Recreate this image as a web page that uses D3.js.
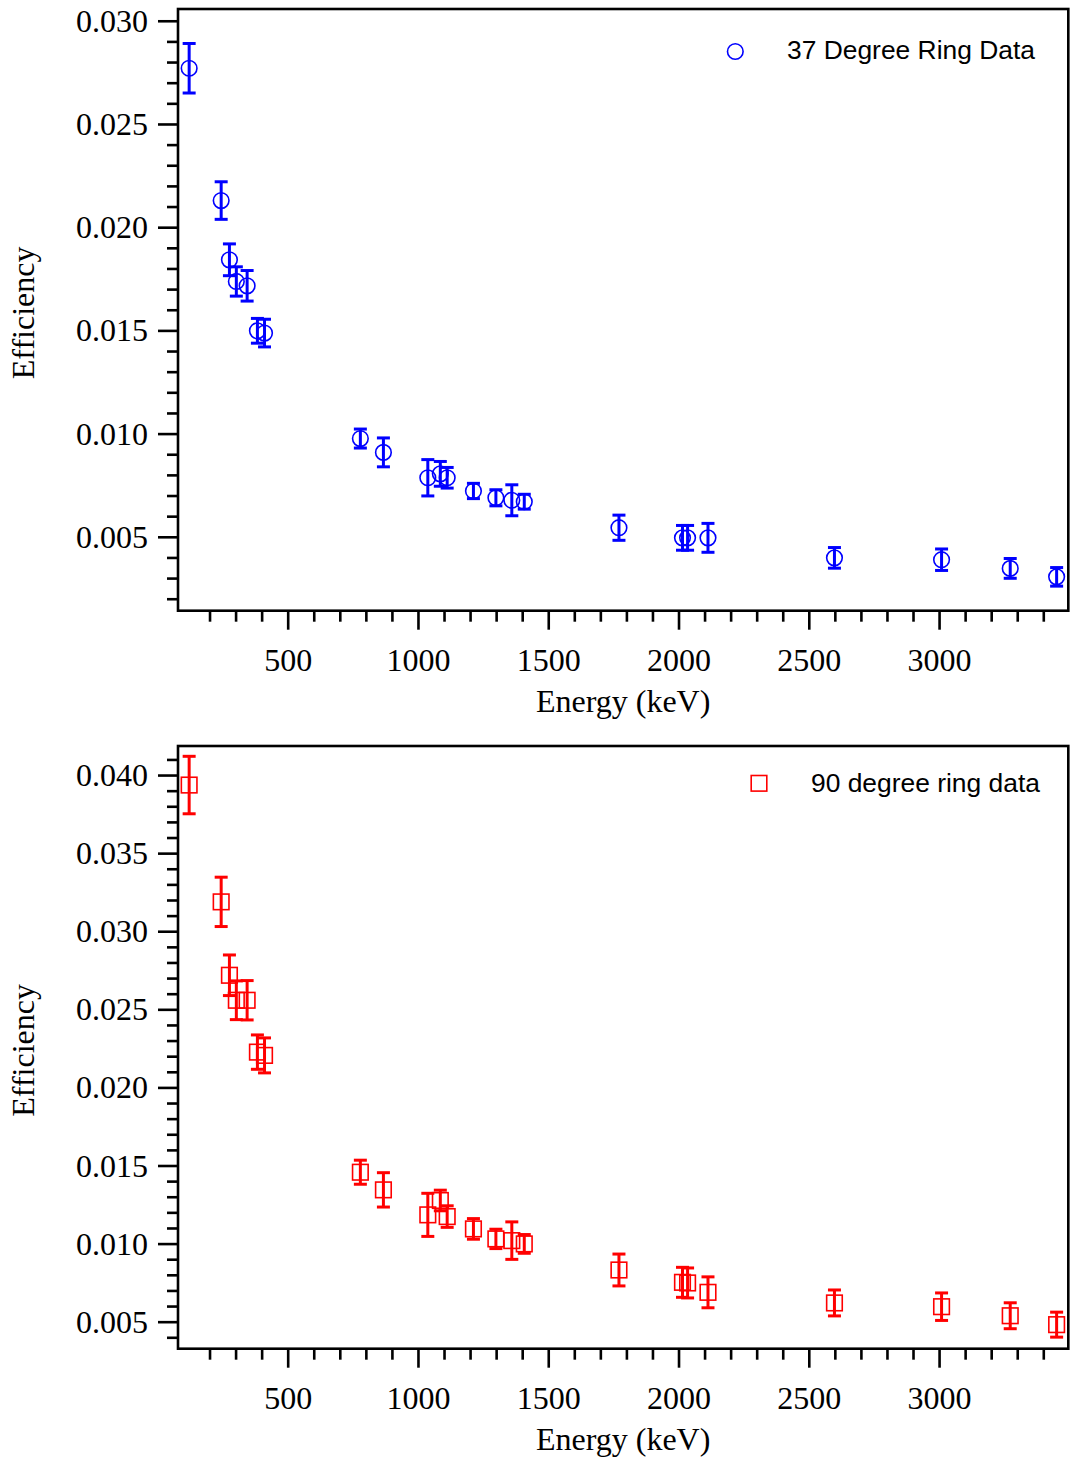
<!DOCTYPE html>
<html>
<head>
<meta charset="utf-8">
<script src="https://cdn.jsdelivr.net/npm/d3@7"></script>
<style>
  html, body { margin: 0; padding: 0; background: #fff; }
  svg { display: block; }
</style>
</head>
<body>
<svg id="chart" width="1073" height="1462"></svg>
<script>
// Gamma-ray energies (keV) of the calibration peaks
const energies = [121.8, 244.7, 276.4, 302.9, 344.3, 383.8, 411.1, 778.9, 867.4, 1037.8,
  1085.8, 1112.1, 1212.9, 1299.1, 1360.2, 1408.0, 1771.4, 2015.2, 2034.8, 2113.1,
  2598.5, 3009.6, 3273.1, 3451.2];

// 37 degree ring: efficiency and its uncertainty
const eff37 = [0.02770, 0.02129, 0.01842, 0.01737, 0.01716, 0.01498, 0.01487, 0.00976, 0.00909, 0.00786,
  0.00805, 0.00786, 0.00722, 0.00689, 0.00677, 0.00670, 0.00544, 0.00495, 0.00495, 0.00495,
  0.00398, 0.00389, 0.00347, 0.00306];
const err37 = [0.00120, 0.00091, 0.00077, 0.00071, 0.00074, 0.00060, 0.00067, 0.00046, 0.00070, 0.00088,
  0.00060, 0.00050, 0.00037, 0.00039, 0.00075, 0.00036, 0.00061, 0.00060, 0.00060, 0.00070,
  0.00050, 0.00052, 0.00048, 0.00045];

// 90 degree ring: efficiency and its uncertainty
const eff90 = [0.03936, 0.03188, 0.02718, 0.02558, 0.02558, 0.02226, 0.02205, 0.01457, 0.01344, 0.01184,
  0.01276, 0.01173, 0.01094, 0.01030, 0.01019, 0.00998, 0.00831, 0.00752, 0.00748, 0.00688,
  0.00620, 0.00596, 0.00538, 0.00481];
const err90 = [0.00184, 0.00158, 0.00130, 0.00124, 0.00126, 0.00110, 0.00112, 0.00077, 0.00110, 0.00138,
  0.00066, 0.00069, 0.00066, 0.00062, 0.00120, 0.00060, 0.00102, 0.00096, 0.00096, 0.00099,
  0.00083, 0.00088, 0.00083, 0.00080];

// Axis ticks
const xMajor = [500, 1000, 1500, 2000, 2500, 3000];
const xMinor = d3.range(200, 3401, 100).filter(v => v % 500 !== 0);
const yMajorTop = [0.005, 0.010, 0.015, 0.020, 0.025, 0.030];
const yMajorBottom = [0.005, 0.010, 0.015, 0.020, 0.025, 0.030, 0.035, 0.040];

const svg = d3.select("#chart");
svg.append("rect").attr("width", 1073).attr("height", 1462).attr("fill", "#fff");

const serif = "'Liberation Serif', 'Times New Roman', Times, serif";
const sans = "'Liberation Sans', Arial, Helvetica, sans-serif";
const fmt = d3.format(".3f");

function panel(cfg) {
  const { left, right, top, bottom, yDomain, yMajor, eff, err, color, marker, legendLabel, legend } = cfg;
  const x = d3.scaleLinear().domain([79, 3496]).range([left, right]);
  const y = d3.scaleLinear().domain(yDomain).range([bottom, top]);
  const g = svg.append("g");

  // y minor ticks every 0.001
  const yMinor = d3.range(Math.ceil(yDomain[0] * 1000), Math.floor(yDomain[1] * 1000) + 1)
    .map(k => k / 1000)
    .filter(v => Math.round(v * 1000) % 5 !== 0);

  const yAxisMinor = d3.axisLeft(y).tickValues(yMinor).tickSize(11).tickFormat("");
  const yAxisMajor = d3.axisLeft(y).tickValues(yMajor).tickSize(20).tickPadding(10).tickFormat(fmt);
  const xAxisMinor = d3.axisBottom(x).tickValues(xMinor).tickSize(11).tickFormat("");
  const xAxisMajor = d3.axisBottom(x).tickValues(xMajor).tickSize(19).tickPadding(0).tickFormat(d3.format("d"));

  const style = sel => {
    sel.select(".domain").remove();
    sel.selectAll("line").attr("stroke", "#000").attr("stroke-width", 2.6);
    sel.selectAll("text").attr("fill", "#000").style("font-family", serif).style("font-size", "32px");
  };

  g.append("g").attr("transform", `translate(${left},0)`).call(yAxisMinor).call(style);
  g.append("g").attr("transform", `translate(${left},0)`).call(yAxisMajor).call(style)
    .selectAll("text").attr("dy", "0.33em");
  g.append("g").attr("transform", `translate(0,${bottom})`).call(xAxisMinor).call(style);
  const xa = g.append("g").attr("transform", `translate(0,${bottom})`).call(xAxisMajor).call(style);
  xa.selectAll("text").attr("y", 60).attr("dy", 0);

  // frame
  g.append("rect")
    .attr("x", left).attr("y", top)
    .attr("width", right - left).attr("height", bottom - top)
    .attr("fill", "none").attr("stroke", "#000").attr("stroke-width", 2.6);

  // axis titles
  g.append("text")
    .attr("x", (left + right) / 2).attr("y", bottom + 101)
    .attr("text-anchor", "middle")
    .style("font-family", serif).style("font-size", "32px")
    .text("Energy (keV)");
  g.append("text")
    .attr("transform", `translate(34,${(top + bottom) / 2 + 3}) rotate(-90)`)
    .attr("text-anchor", "middle")
    .style("font-family", serif).style("font-size", "32px")
    .text("Efficiency");

  const pts = energies.map((e, i) => ({ e, v: eff[i], s: err[i] }));
  const cap = 6.5;

  // error bars
  const eb = g.append("g").attr("stroke", color).attr("stroke-width", 3).attr("fill", "none");
  pts.forEach(p => {
    const cx = x(p.e), y1 = y(p.v + p.s), y2 = y(p.v - p.s);
    eb.append("line").attr("x1", cx).attr("x2", cx).attr("y1", y1).attr("y2", y2);
    eb.append("line").attr("x1", cx - cap).attr("x2", cx + cap).attr("y1", y1).attr("y2", y1);
    eb.append("line").attr("x1", cx - cap).attr("x2", cx + cap).attr("y1", y2).attr("y2", y2);
  });

  // markers
  const mk = g.append("g").attr("stroke", color).attr("stroke-width", 1.6).attr("fill", "none");
  const drawMarker = (sel, cx, cy) => {
    if (marker === "circle") {
      sel.append("circle").attr("cx", cx).attr("cy", cy).attr("r", 7.8);
    } else {
      sel.append("rect").attr("x", cx - 7.8).attr("y", cy - 7.8).attr("width", 15.6).attr("height", 15.6);
    }
  };
  pts.forEach(p => drawMarker(mk, x(p.e), y(p.v)));

  // legend
  const lg = g.append("g").attr("stroke", color).attr("stroke-width", 1.6).attr("fill", "none");
  drawMarker(lg, legend.mx, legend.my);
  g.append("text")
    .attr("x", legend.tx).attr("y", legend.ty)
    .style("font-family", sans).style("font-size", "26.4px")
    .attr("fill", "#000")
    .text(legendLabel);
}

panel({
  left: 178, right: 1068.3, top: 9, bottom: 610.7,
  yDomain: [0.00142, 0.03057], yMajor: yMajorTop,
  eff: eff37, err: err37, color: "#0000ff", marker: "circle",
  legendLabel: "37 Degree Ring Data",
  legend: { mx: 735.3, my: 51.5, tx: 787, ty: 58.5 }
});

panel({
  left: 178, right: 1068.3, top: 746, bottom: 1348.7,
  yDomain: [0.00327, 0.04186], yMajor: yMajorBottom,
  eff: eff90, err: err90, color: "#ff0000", marker: "square",
  legendLabel: "90 degree ring data",
  legend: { mx: 759, my: 783.3, tx: 811, ty: 792 }
});
</script>
</body>
</html>
